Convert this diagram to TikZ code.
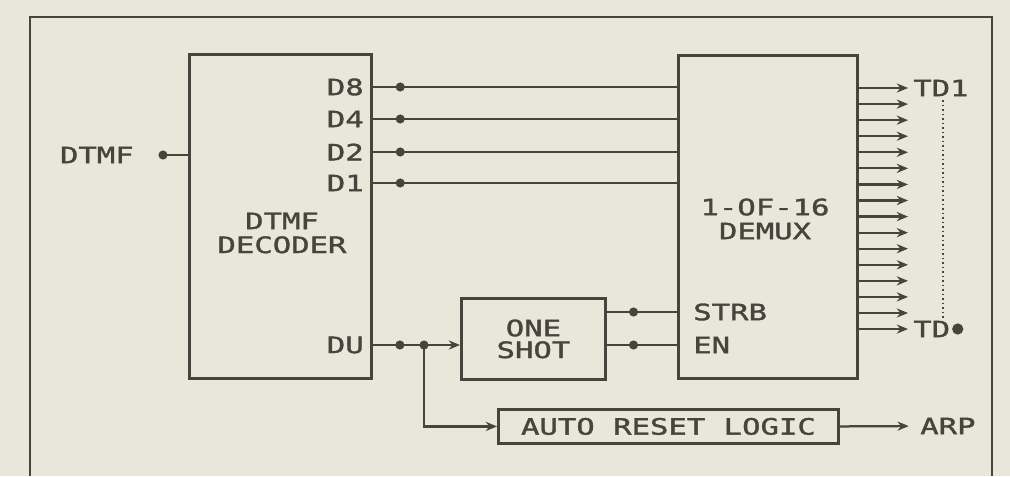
\documentclass[tikz,border=0pt]{standalone}
\usepackage{fontspec}
\setmainfont{DejaVu Sans Mono}[FakeStretch=1.36,FakeBold=1.6]
\usetikzlibrary{arrows.meta,positioning,calc}
\definecolor{DKink}{RGB}{70,68,60}
\definecolor{DKpaper}{RGB}{233,231,217}
\tikzset{
  block/.style={draw=DKink,line width=2pt,fill=DKpaper,inner sep=0pt,
                text=DKink,align=center,font=\fontsize{16}{15.5}\selectfont},
  wire/.style={draw=DKink,line width=1.6pt},
  wirea/.style={wire,-{Stealth[length=8pt,width=6.5pt]}},
  dot/.style={circle,fill=DKink,inner sep=0pt,minimum size=6.5pt},
  pin/.style={text=DKink,font=\fontsize{16}{17}\selectfont,inner sep=0pt},
  title/.style={pin,align=center}
}
\begin{document}
\begin{tikzpicture}[x=0.025cm,y=-0.025cm]
  \fill[DKpaper] (0,0) rectangle (1010,476);
  \useasboundingbox (0,0) rectangle (1010,476);
  \draw[DKink,line width=2pt] (30,476) -- (30,17) -- (992,17) -- (992,476);

  % blocks
  \node[block,minimum width=4.55cm,minimum height=8.1cm,anchor=north west] (dec) at (188,53) {};
  \node[block,minimum width=4.475cm,minimum height=8.075cm,anchor=north west] (mux) at (677,54) {};
  \node[block,minimum width=3.6cm,minimum height=2.025cm,anchor=north west] (shot) at (460,297) {ONE\\SHOT};
  \node[block,minimum width=8.5cm,minimum height=0.85cm,anchor=north west] (arl) at (497,408) {AUTO RESET LOGIC};
  \node[title] (dectxt) at (282,233) {DTMF\\DECODER};
  \node[title] (muxtxt) at (765,219) {1-OF-16\\DEMUX};

  % decoder side
  \node[pin,anchor=east] (dtmf) at (134,155) {DTMF};
  \coordinate (dtmfin) at (163,155);
  \draw[wire] (dtmfin) -- (dec.west |- dtmfin);
  \node[dot] at (dtmfin) {};
  \foreach \p/\y in {8/87,4/119,2/152,1/183}{
    \node[pin,anchor=east] (d\p) at (364,\y) {D\p};
    \draw[wire] (dec.east |- d\p) -- node[dot,pos=0.09]{} (mux.west |- d\p);
  }
  \node[pin,anchor=east] (du) at (364,345) {DU};
  \coordinate (duj) at (424,345);
  \draw[wirea] (dec.east |- du) -- node[dot,pos=0.31]{} (shot.west |- du);
  \node[dot] at (duj) {};
  \draw[wirea] (duj) |- (arl.west);

  % demux side
  \node[pin,anchor=west] (strb) at (693,312) {STRB};
  \node[pin,anchor=west] (en) at (693,345) {EN};
  \draw[wire] (shot.east |- strb) -- node[dot,pos=0.38]{} (mux.west |- strb);
  \draw[wire] (shot.east |- en) -- node[dot,pos=0.38]{} (mux.west |- en);
  \foreach \i in {0,...,15}{
    \coordinate (td\i) at (908,{88+16.07*\i});
    \draw[wirea] (mux.east |- td\i) -- (td\i);
  }
  \node[pin,anchor=west] (td1) at (913,88) {TD1};
  \node[pin,anchor=west] (tdn) at (913,329) {TD};
  \node[dot,minimum size=8pt,right=1pt of tdn] (tdndot) {};
  \draw[DKink,line width=1.2pt,dotted] (943,100) -- (943,318);

  \node[pin,anchor=west] (arp) at (920,426) {ARP};
  \draw[wirea,shorten >=8pt] (arl.east) -- (arp.west);
\end{tikzpicture}
\end{document}
